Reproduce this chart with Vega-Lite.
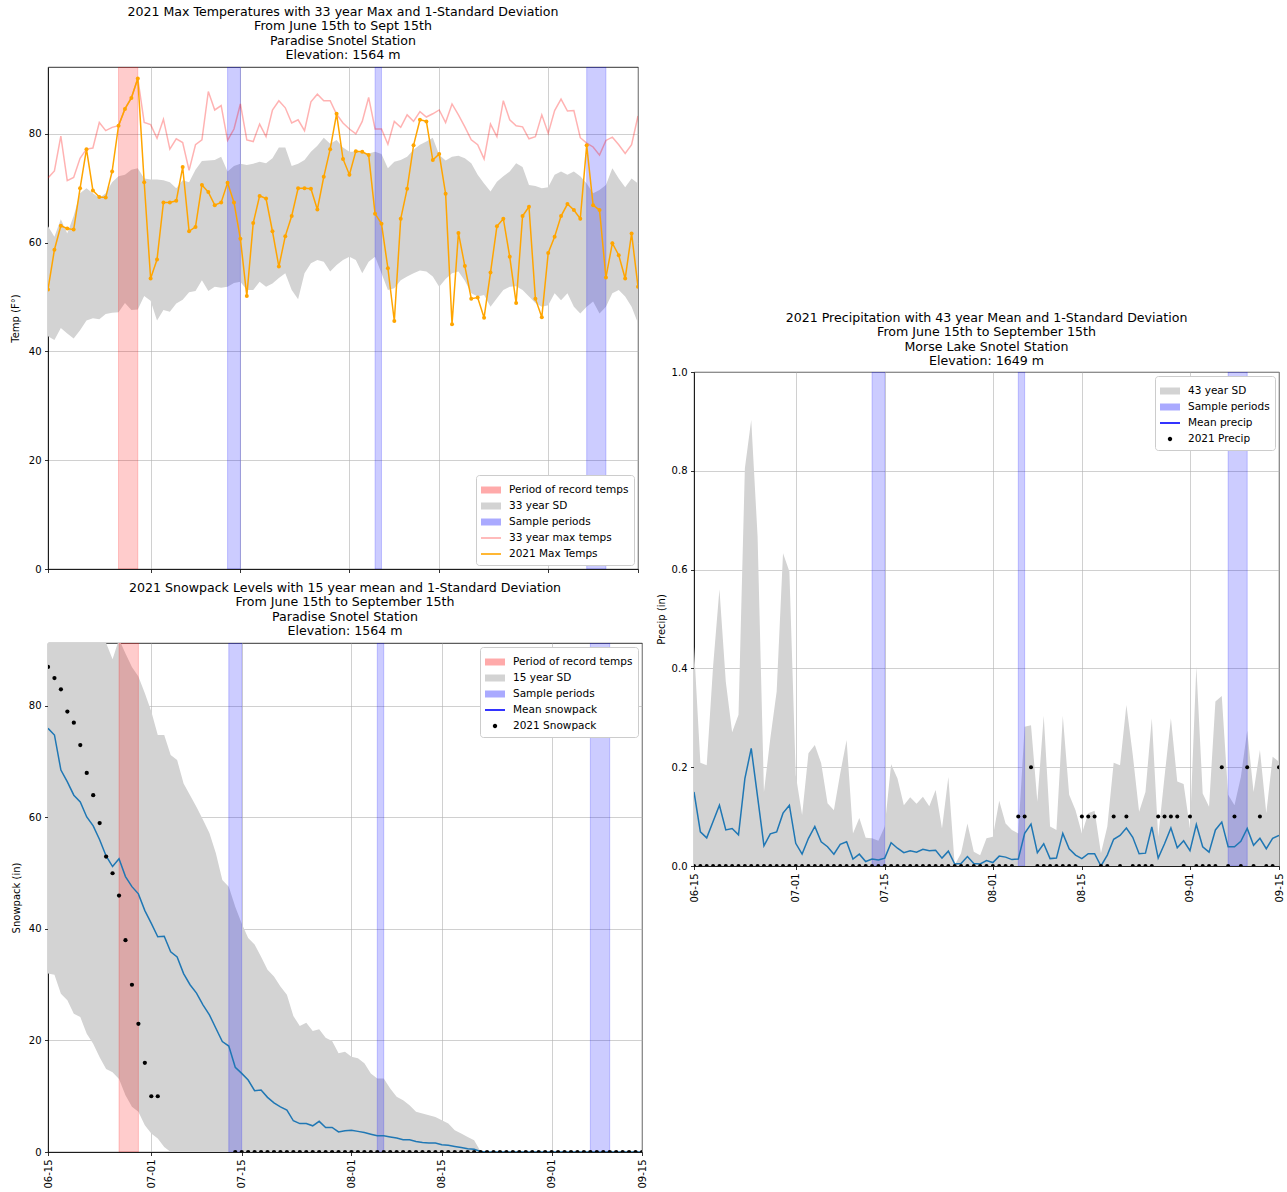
{
"$schema": "https://vega.github.io/schema/vega-lite/v6.json",
"padding": {"left": 9, "top": 5, "right": 5, "bottom": 5},
"background": "white",
"config": {
 "font": "DejaVu Sans",
 "view": {"stroke": "black", "strokeWidth": 0.8},
 "axis": {"labelFont": "DejaVu Sans", "labelFontSize": 10, "labelColor": "black", "titleFont": "DejaVu Sans", "titleFontSize": 10, "titleFontWeight": "normal", "titleColor": "black", "domainColor": "black", "domainWidth": 0.8, "tickColor": "black", "tickSize": 3.5, "tickWidth": 0.8, "gridColor": "#b0b0b0", "gridWidth": 0.8, "gridOpacity": 0.75, "zindex": 1, "labelPadding": 3.5, "titlePadding": 5, "labelFlush": false, "labelOverlap": false},
 "legend": {"labelFont": "DejaVu Sans", "labelFontSize": 10.5, "labelColor": "black", "fillColor": "white", "strokeColor": "#cccccc", "cornerRadius": 3, "padding": 5, "symbolSize": 400, "symbolStrokeWidth": 0, "rowPadding": 0, "labelOffset": 8, "offset": 4, "zindex": 2, "labelLimit": 300},
 "title": {"font": "DejaVu Sans", "fontSize": 12.6, "fontWeight": "normal", "color": "black", "lineHeight": 14.5, "anchor": "middle", "frame": "group", "offset": 5}
},
"datasets": {
 "record": [{"start": "2021-06-26T00:00", "end": "2021-06-29T00:00"}],
 "sample": [{"start": "2021-07-13T00:00", "end": "2021-07-15T00:00"}, {"start": "2021-08-05T00:00", "end": "2021-08-06T00:00"}, {"start": "2021-09-07T00:00", "end": "2021-09-10T00:00"}],
 "temp": [
{"date":"2021-06-15T00:00","t":51.4,"mx":71.9,"lo":42.8,"hi":63.0},
{"date":"2021-06-16T00:00","t":58.7,"mx":73.2,"lo":42.1,"hi":61.1},
{"date":"2021-06-17T00:00","t":63.1,"mx":79.6,"lo":44.3,"hi":64.3},
{"date":"2021-06-18T00:00","t":62.6,"mx":71.4,"lo":43.3,"hi":61.7},
{"date":"2021-06-19T00:00","t":62.4,"mx":72.0,"lo":42.4,"hi":64.9},
{"date":"2021-06-20T00:00","t":70.0,"mx":75.5,"lo":43.9,"hi":69.1},
{"date":"2021-06-21T00:00","t":77.2,"mx":77.2,"lo":45.7,"hi":70.0},
{"date":"2021-06-22T00:00","t":69.6,"mx":77.4,"lo":46.1,"hi":69.1},
{"date":"2021-06-23T00:00","t":68.4,"mx":82.1,"lo":45.9,"hi":68.2},
{"date":"2021-06-24T00:00","t":68.3,"mx":80.6,"lo":46.9,"hi":69.1},
{"date":"2021-06-25T00:00","t":73.1,"mx":81.2,"lo":47.1,"hi":71.1},
{"date":"2021-06-26T00:00","t":81.5,"mx":81.5,"lo":47.2,"hi":72.2},
{"date":"2021-06-27T00:00","t":84.6,"mx":84.6,"lo":48.9,"hi":72.5},
{"date":"2021-06-28T00:00","t":86.6,"mx":86.6,"lo":47.6,"hi":73.4},
{"date":"2021-06-29T00:00","t":90.2,"mx":90.2,"lo":47.7,"hi":73.7},
{"date":"2021-06-30T00:00","t":71.1,"mx":82.1,"lo":50.2,"hi":71.8},
{"date":"2021-07-01T00:00","t":53.4,"mx":81.7,"lo":49.3,"hi":71.6},
{"date":"2021-07-02T00:00","t":56.9,"mx":79.2,"lo":45.7,"hi":71.6},
{"date":"2021-07-03T00:00","t":67.4,"mx":82.7,"lo":47.6,"hi":71.5},
{"date":"2021-07-04T00:00","t":67.4,"mx":77.2,"lo":47.3,"hi":71.1},
{"date":"2021-07-05T00:00","t":67.7,"mx":79.1,"lo":48.8,"hi":70.0},
{"date":"2021-07-06T00:00","t":73.9,"mx":78.4,"lo":49.5,"hi":71.5},
{"date":"2021-07-07T00:00","t":62.1,"mx":73.3,"lo":50.9,"hi":71.1},
{"date":"2021-07-08T00:00","t":62.9,"mx":78.0,"lo":51.1,"hi":73.4},
{"date":"2021-07-09T00:00","t":70.6,"mx":78.9,"lo":53.1,"hi":75.0},
{"date":"2021-07-10T00:00","t":69.3,"mx":87.8,"lo":51.1,"hi":75.1},
{"date":"2021-07-11T00:00","t":66.9,"mx":84.4,"lo":51.9,"hi":75.2},
{"date":"2021-07-12T00:00","t":67.4,"mx":85.2,"lo":51.7,"hi":75.8},
{"date":"2021-07-13T00:00","t":71.0,"mx":78.8,"lo":51.9,"hi":73.1},
{"date":"2021-07-14T00:00","t":67.4,"mx":80.9,"lo":52.6,"hi":74.1},
{"date":"2021-07-15T00:00","t":60.7,"mx":85.5,"lo":52.8,"hi":74.5},
{"date":"2021-07-16T00:00","t":50.2,"mx":78.9,"lo":51.3,"hi":74.3},
{"date":"2021-07-17T00:00","t":63.6,"mx":78.6,"lo":51.3,"hi":74.5},
{"date":"2021-07-18T00:00","t":68.6,"mx":81.8,"lo":52.8,"hi":74.9},
{"date":"2021-07-19T00:00","t":68.1,"mx":79.5,"lo":51.9,"hi":74.6},
{"date":"2021-07-20T00:00","t":62.1,"mx":84.4,"lo":52.5,"hi":75.5},
{"date":"2021-07-21T00:00","t":55.6,"mx":86.1,"lo":53.5,"hi":77.5},
{"date":"2021-07-22T00:00","t":61.2,"mx":84.8,"lo":54.4,"hi":77.5},
{"date":"2021-07-23T00:00","t":64.9,"mx":82.0,"lo":51.3,"hi":74.1},
{"date":"2021-07-24T00:00","t":70.0,"mx":82.6,"lo":49.6,"hi":74.5},
{"date":"2021-07-25T00:00","t":70.0,"mx":80.6,"lo":54.4,"hi":75.2},
{"date":"2021-07-26T00:00","t":69.9,"mx":85.9,"lo":56.2,"hi":76.7},
{"date":"2021-07-27T00:00","t":66.1,"mx":87.3,"lo":56.8,"hi":77.8},
{"date":"2021-07-28T00:00","t":72.1,"mx":86.1,"lo":56.5,"hi":79.3},
{"date":"2021-07-29T00:00","t":77.2,"mx":86.1,"lo":54.7,"hi":78.2},
{"date":"2021-07-30T00:00","t":83.7,"mx":83.6,"lo":55.9,"hi":78.9},
{"date":"2021-07-31T00:00","t":75.4,"mx":82.0,"lo":56.8,"hi":77.5},
{"date":"2021-08-01T00:00","t":72.5,"mx":80.9,"lo":57.4,"hi":76.7},
{"date":"2021-08-02T00:00","t":76.8,"mx":80.0,"lo":56.8,"hi":76.7},
{"date":"2021-08-03T00:00","t":76.7,"mx":82.3,"lo":54.4,"hi":76.6},
{"date":"2021-08-04T00:00","t":76.1,"mx":86.7,"lo":56.5,"hi":76.4},
{"date":"2021-08-05T00:00","t":65.3,"mx":80.9,"lo":57.4,"hi":76.7},
{"date":"2021-08-06T00:00","t":63.5,"mx":80.9,"lo":54.4,"hi":76.3},
{"date":"2021-08-07T00:00","t":55.3,"mx":78.1,"lo":51.3,"hi":73.7},
{"date":"2021-08-08T00:00","t":45.6,"mx":82.3,"lo":51.6,"hi":74.9},
{"date":"2021-08-09T00:00","t":64.4,"mx":81.2,"lo":53.1,"hi":75.2},
{"date":"2021-08-10T00:00","t":69.9,"mx":83.5,"lo":53.8,"hi":75.8},
{"date":"2021-08-11T00:00","t":77.9,"mx":82.3,"lo":54.4,"hi":77.1},
{"date":"2021-08-12T00:00","t":82.6,"mx":84.1,"lo":54.9,"hi":78.0},
{"date":"2021-08-13T00:00","t":82.3,"mx":83.1,"lo":54.7,"hi":78.6},
{"date":"2021-08-14T00:00","t":75.2,"mx":83.7,"lo":53.8,"hi":79.3},
{"date":"2021-08-15T00:00","t":76.3,"mx":84.4,"lo":51.9,"hi":76.1},
{"date":"2021-08-16T00:00","t":69.0,"mx":82.1,"lo":53.3,"hi":75.1},
{"date":"2021-08-17T00:00","t":45.0,"mx":85.5,"lo":54.4,"hi":75.8},
{"date":"2021-08-18T00:00","t":61.8,"mx":83.5,"lo":54.7,"hi":76.0},
{"date":"2021-08-19T00:00","t":55.7,"mx":81.3,"lo":53.0,"hi":75.5},
{"date":"2021-08-20T00:00","t":49.7,"mx":78.9,"lo":50.7,"hi":74.6},
{"date":"2021-08-21T00:00","t":49.9,"mx":78.0,"lo":50.1,"hi":72.5},
{"date":"2021-08-22T00:00","t":46.2,"mx":75.4,"lo":50.4,"hi":70.9},
{"date":"2021-08-23T00:00","t":54.5,"mx":81.8,"lo":48.2,"hi":69.4},
{"date":"2021-08-24T00:00","t":63.0,"mx":79.5,"lo":49.8,"hi":71.2},
{"date":"2021-08-25T00:00","t":64.4,"mx":86.1,"lo":51.3,"hi":72.2},
{"date":"2021-08-26T00:00","t":57.4,"mx":82.6,"lo":51.9,"hi":73.1},
{"date":"2021-08-27T00:00","t":48.9,"mx":81.5,"lo":52.0,"hi":74.6},
{"date":"2021-08-28T00:00","t":64.9,"mx":81.3,"lo":51.3,"hi":73.9},
{"date":"2021-08-29T00:00","t":66.6,"mx":79.1,"lo":50.1,"hi":70.6},
{"date":"2021-08-30T00:00","t":49.7,"mx":79.5,"lo":48.9,"hi":70.4},
{"date":"2021-08-31T00:00","t":46.3,"mx":83.5,"lo":48.2,"hi":70.0},
{"date":"2021-09-01T00:00","t":58.1,"mx":80.1,"lo":48.5,"hi":70.2},
{"date":"2021-09-02T00:00","t":61.1,"mx":84.3,"lo":50.7,"hi":72.5},
{"date":"2021-09-03T00:00","t":64.9,"mx":86.4,"lo":49.4,"hi":73.1},
{"date":"2021-09-04T00:00","t":67.1,"mx":84.2,"lo":50.7,"hi":72.5},
{"date":"2021-09-05T00:00","t":66.0,"mx":84.3,"lo":48.2,"hi":73.1},
{"date":"2021-09-06T00:00","t":64.4,"mx":79.3,"lo":47.0,"hi":72.2},
{"date":"2021-09-07T00:00","t":77.9,"mx":78.3,"lo":48.2,"hi":70.9},
{"date":"2021-09-08T00:00","t":66.9,"mx":77.6,"lo":49.2,"hi":69.1},
{"date":"2021-09-09T00:00","t":66.0,"mx":76.1,"lo":47.0,"hi":69.7},
{"date":"2021-09-10T00:00","t":53.6,"mx":78.8,"lo":48.2,"hi":70.6},
{"date":"2021-09-11T00:00","t":59.9,"mx":79.4,"lo":50.7,"hi":73.7},
{"date":"2021-09-12T00:00","t":57.7,"mx":78.0,"lo":51.3,"hi":71.8},
{"date":"2021-09-13T00:00","t":53.4,"mx":76.4,"lo":50.1,"hi":70.2},
{"date":"2021-09-14T00:00","t":61.7,"mx":78.0,"lo":48.2,"hi":71.8},
{"date":"2021-09-15T00:00","t":51.9,"mx":83.3,"lo":45.2,"hi":70.9}
 ],
 "snow": [
{"date":"2021-06-15T00:00","s":87,"m":76.0,"lo":32.0,"hi":120.0},
{"date":"2021-06-16T00:00","s":85,"m":74.8,"lo":31.8,"hi":117.8},
{"date":"2021-06-17T00:00","s":83,"m":68.5,"lo":28.4,"hi":108.6},
{"date":"2021-06-18T00:00","s":79,"m":66.4,"lo":27.2,"hi":105.6},
{"date":"2021-06-19T00:00","s":77,"m":64.0,"lo":24.8,"hi":103.2},
{"date":"2021-06-20T00:00","s":73,"m":62.8,"lo":24.2,"hi":101.4},
{"date":"2021-06-21T00:00","s":68,"m":60.1,"lo":21.2,"hi":99.0},
{"date":"2021-06-22T00:00","s":64,"m":58.5,"lo":19.4,"hi":97.6},
{"date":"2021-06-23T00:00","s":59,"m":56.0,"lo":17.0,"hi":95.0},
{"date":"2021-06-24T00:00","s":53,"m":53.1,"lo":14.9,"hi":91.3},
{"date":"2021-06-25T00:00","s":50,"m":51.2,"lo":14.3,"hi":88.4},
{"date":"2021-06-26T00:00","s":46,"m":52.6,"lo":13.1,"hi":92.0},
{"date":"2021-06-27T00:00","s":38,"m":49.4,"lo":10.2,"hi":89.4},
{"date":"2021-06-28T00:00","s":30,"m":47.6,"lo":8.1,"hi":87.0},
{"date":"2021-06-29T00:00","s":23,"m":46.3,"lo":7.2,"hi":85.3},
{"date":"2021-06-30T00:00","s":16,"m":43.3,"lo":4.8,"hi":82.3},
{"date":"2021-07-01T00:00","s":10,"m":41.0,"lo":3.3,"hi":79.0},
{"date":"2021-07-02T00:00","s":10,"m":38.6,"lo":2.4,"hi":74.8},
{"date":"2021-07-03T00:00","s":null,"m":38.7,"lo":0.9,"hi":74.8},
{"date":"2021-07-04T00:00","s":null,"m":35.9,"lo":0,"hi":71.2},
{"date":"2021-07-05T00:00","s":null,"m":35.0,"lo":0,"hi":70.3},
{"date":"2021-07-06T00:00","s":null,"m":32.0,"lo":0,"hi":66.1},
{"date":"2021-07-07T00:00","s":null,"m":30.0,"lo":0,"hi":64.0},
{"date":"2021-07-08T00:00","s":null,"m":28.5,"lo":0,"hi":61.9},
{"date":"2021-07-09T00:00","s":null,"m":26.4,"lo":0,"hi":59.6},
{"date":"2021-07-10T00:00","s":null,"m":24.6,"lo":0,"hi":57.2},
{"date":"2021-07-11T00:00","s":null,"m":22.2,"lo":0,"hi":53.6},
{"date":"2021-07-12T00:00","s":null,"m":19.8,"lo":0,"hi":48.8},
{"date":"2021-07-13T00:00","s":null,"m":19.0,"lo":0,"hi":47.6},
{"date":"2021-07-14T00:00","s":0,"m":15.2,"lo":0,"hi":44.0},
{"date":"2021-07-15T00:00","s":0,"m":14.1,"lo":0,"hi":41.0},
{"date":"2021-07-16T00:00","s":0,"m":12.9,"lo":0,"hi":38.4},
{"date":"2021-07-17T00:00","s":0,"m":11.0,"lo":0,"hi":37.2},
{"date":"2021-07-18T00:00","s":0,"m":11.1,"lo":0,"hi":35.0},
{"date":"2021-07-19T00:00","s":0,"m":9.8,"lo":0,"hi":32.7},
{"date":"2021-07-20T00:00","s":0,"m":8.8,"lo":0,"hi":31.5},
{"date":"2021-07-21T00:00","s":0,"m":8.1,"lo":0,"hi":29.7},
{"date":"2021-07-22T00:00","s":0,"m":7.5,"lo":0,"hi":28.2},
{"date":"2021-07-23T00:00","s":0,"m":5.6,"lo":0,"hi":24.4},
{"date":"2021-07-24T00:00","s":0,"m":5.1,"lo":0,"hi":22.6},
{"date":"2021-07-25T00:00","s":0,"m":5.1,"lo":0,"hi":23.2},
{"date":"2021-07-26T00:00","s":0,"m":4.7,"lo":0,"hi":21.7},
{"date":"2021-07-27T00:00","s":0,"m":5.5,"lo":0,"hi":22.0},
{"date":"2021-07-28T00:00","s":0,"m":4.4,"lo":0,"hi":20.5},
{"date":"2021-07-29T00:00","s":0,"m":4.4,"lo":0,"hi":19.9},
{"date":"2021-07-30T00:00","s":0,"m":3.6,"lo":0,"hi":17.7},
{"date":"2021-07-31T00:00","s":0,"m":3.8,"lo":0,"hi":18.0},
{"date":"2021-08-01T00:00","s":0,"m":3.9,"lo":0,"hi":17.1},
{"date":"2021-08-02T00:00","s":0,"m":3.7,"lo":0,"hi":16.8},
{"date":"2021-08-03T00:00","s":0,"m":3.5,"lo":0,"hi":15.9},
{"date":"2021-08-04T00:00","s":0,"m":3.2,"lo":0,"hi":14.1},
{"date":"2021-08-05T00:00","s":0,"m":2.9,"lo":0,"hi":13.2},
{"date":"2021-08-06T00:00","s":0,"m":2.9,"lo":0,"hi":13.2},
{"date":"2021-08-07T00:00","s":0,"m":2.7,"lo":0,"hi":11.4},
{"date":"2021-08-08T00:00","s":0,"m":2.5,"lo":0,"hi":9.9},
{"date":"2021-08-09T00:00","s":0,"m":2.2,"lo":0,"hi":9.3},
{"date":"2021-08-10T00:00","s":0,"m":2.2,"lo":0,"hi":8.4},
{"date":"2021-08-11T00:00","s":0,"m":1.9,"lo":0,"hi":7.2},
{"date":"2021-08-12T00:00","s":0,"m":1.7,"lo":0,"hi":6.9},
{"date":"2021-08-13T00:00","s":0,"m":1.6,"lo":0,"hi":6.6},
{"date":"2021-08-14T00:00","s":0,"m":1.6,"lo":0,"hi":6.3},
{"date":"2021-08-15T00:00","s":0,"m":1.3,"lo":0,"hi":5.7},
{"date":"2021-08-16T00:00","s":0,"m":1.2,"lo":0,"hi":5.1},
{"date":"2021-08-17T00:00","s":0,"m":1.0,"lo":0,"hi":3.9},
{"date":"2021-08-18T00:00","s":0,"m":0.8,"lo":0,"hi":3.3},
{"date":"2021-08-19T00:00","s":0,"m":0.6,"lo":0,"hi":2.7},
{"date":"2021-08-20T00:00","s":0,"m":0.5,"lo":0,"hi":2.1},
{"date":"2021-08-21T00:00","s":0,"m":0.1,"lo":0,"hi":0.1},
{"date":"2021-08-22T00:00","s":0,"m":0,"lo":0,"hi":0},
{"date":"2021-08-23T00:00","s":0,"m":0,"lo":0,"hi":0},
{"date":"2021-08-24T00:00","s":0,"m":0,"lo":0,"hi":0},
{"date":"2021-08-25T00:00","s":0,"m":0,"lo":0,"hi":0},
{"date":"2021-08-26T00:00","s":0,"m":0,"lo":0,"hi":0},
{"date":"2021-08-27T00:00","s":0,"m":0,"lo":0,"hi":0},
{"date":"2021-08-28T00:00","s":0,"m":0,"lo":0,"hi":0},
{"date":"2021-08-29T00:00","s":0,"m":0,"lo":0,"hi":0},
{"date":"2021-08-30T00:00","s":0,"m":0,"lo":0,"hi":0},
{"date":"2021-08-31T00:00","s":0,"m":0,"lo":0,"hi":0},
{"date":"2021-09-01T00:00","s":0,"m":0,"lo":0,"hi":0},
{"date":"2021-09-02T00:00","s":0,"m":0,"lo":0,"hi":0},
{"date":"2021-09-03T00:00","s":0,"m":0,"lo":0,"hi":0},
{"date":"2021-09-04T00:00","s":0,"m":0,"lo":0,"hi":0},
{"date":"2021-09-05T00:00","s":0,"m":0,"lo":0,"hi":0},
{"date":"2021-09-06T00:00","s":0,"m":0,"lo":0,"hi":0},
{"date":"2021-09-07T00:00","s":0,"m":0,"lo":0,"hi":0},
{"date":"2021-09-08T00:00","s":0,"m":0,"lo":0,"hi":0},
{"date":"2021-09-09T00:00","s":0,"m":0,"lo":0,"hi":0},
{"date":"2021-09-10T00:00","s":0,"m":0,"lo":0,"hi":0},
{"date":"2021-09-11T00:00","s":0,"m":0,"lo":0,"hi":0},
{"date":"2021-09-12T00:00","s":0,"m":0,"lo":0,"hi":0},
{"date":"2021-09-13T00:00","s":0,"m":0,"lo":0,"hi":0},
{"date":"2021-09-14T00:00","s":0,"m":0,"lo":0,"hi":0},
{"date":"2021-09-15T00:00","s":0,"m":0,"lo":0,"hi":0}
 ],
 "precip": [
{"date":"2021-06-15T00:00","m":0.150,"hi":0.444,"p":0},
{"date":"2021-06-16T00:00","m":0.069,"hi":0.209,"p":0},
{"date":"2021-06-17T00:00","m":0.057,"hi":0.204,"p":0},
{"date":"2021-06-18T00:00","m":0.090,"hi":0.404,"p":0},
{"date":"2021-06-19T00:00","m":0.123,"hi":0.560,"p":0},
{"date":"2021-06-20T00:00","m":0.073,"hi":0.373,"p":0},
{"date":"2021-06-21T00:00","m":0.076,"hi":0.271,"p":0},
{"date":"2021-06-22T00:00","m":0.063,"hi":0.306,"p":0},
{"date":"2021-06-23T00:00","m":0.177,"hi":0.805,"p":0},
{"date":"2021-06-24T00:00","m":0.238,"hi":0.903,"p":0},
{"date":"2021-06-25T00:00","m":0.140,"hi":0.667,"p":0},
{"date":"2021-06-26T00:00","m":0.041,"hi":0.150,"p":0},
{"date":"2021-06-27T00:00","m":0.065,"hi":0.258,"p":0},
{"date":"2021-06-28T00:00","m":0.069,"hi":0.353,"p":0},
{"date":"2021-06-29T00:00","m":0.107,"hi":0.633,"p":0},
{"date":"2021-06-30T00:00","m":0.123,"hi":0.596,"p":0},
{"date":"2021-07-01T00:00","m":0.046,"hi":0.184,"p":0},
{"date":"2021-07-02T00:00","m":0.024,"hi":0.103,"p":0},
{"date":"2021-07-03T00:00","m":0.056,"hi":0.228,"p":0},
{"date":"2021-07-04T00:00","m":0.080,"hi":0.245,"p":0},
{"date":"2021-07-05T00:00","m":0.049,"hi":0.208,"p":0},
{"date":"2021-07-06T00:00","m":0.039,"hi":0.127,"p":0},
{"date":"2021-07-07T00:00","m":0.024,"hi":0.113,"p":0},
{"date":"2021-07-08T00:00","m":0.044,"hi":0.188,"p":0},
{"date":"2021-07-09T00:00","m":0.049,"hi":0.255,"p":0},
{"date":"2021-07-10T00:00","m":0.014,"hi":0.066,"p":0},
{"date":"2021-07-11T00:00","m":0.024,"hi":0.097,"p":0},
{"date":"2021-07-12T00:00","m":0.009,"hi":0.057,"p":0},
{"date":"2021-07-13T00:00","m":0.014,"hi":0.056,"p":0},
{"date":"2021-07-14T00:00","m":0.012,"hi":0.051,"p":0},
{"date":"2021-07-15T00:00","m":0.016,"hi":0.080,"p":0},
{"date":"2021-07-16T00:00","m":0.047,"hi":0.206,"p":0},
{"date":"2021-07-17T00:00","m":0.036,"hi":0.177,"p":0},
{"date":"2021-07-18T00:00","m":0.027,"hi":0.123,"p":0},
{"date":"2021-07-19T00:00","m":0.031,"hi":0.139,"p":0},
{"date":"2021-07-20T00:00","m":0.028,"hi":0.126,"p":0},
{"date":"2021-07-21T00:00","m":0.034,"hi":0.140,"p":0},
{"date":"2021-07-22T00:00","m":0.031,"hi":0.121,"p":0},
{"date":"2021-07-23T00:00","m":0.032,"hi":0.154,"p":0},
{"date":"2021-07-24T00:00","m":0.016,"hi":0.076,"p":0},
{"date":"2021-07-25T00:00","m":0.030,"hi":0.180,"p":0},
{"date":"2021-07-26T00:00","m":0.004,"hi":0.002,"p":0},
{"date":"2021-07-27T00:00","m":0.005,"hi":0.026,"p":0},
{"date":"2021-07-28T00:00","m":0.019,"hi":0.086,"p":0},
{"date":"2021-07-29T00:00","m":0.005,"hi":0.029,"p":0},
{"date":"2021-07-30T00:00","m":0.004,"hi":0.022,"p":0},
{"date":"2021-07-31T00:00","m":0.011,"hi":0.056,"p":0},
{"date":"2021-08-01T00:00","m":0.007,"hi":0.059,"p":0},
{"date":"2021-08-02T00:00","m":0.020,"hi":0.132,"p":0},
{"date":"2021-08-03T00:00","m":0.018,"hi":0.086,"p":0},
{"date":"2021-08-04T00:00","m":0.013,"hi":0.073,"p":0},
{"date":"2021-08-05T00:00","m":0.014,"hi":0.066,"p":0.1},
{"date":"2021-08-06T00:00","m":0.066,"hi":0.282,"p":0.1},
{"date":"2021-08-07T00:00","m":0.085,"hi":0.285,"p":0.2},
{"date":"2021-08-08T00:00","m":0.027,"hi":0.130,"p":0},
{"date":"2021-08-09T00:00","m":0.045,"hi":0.304,"p":0},
{"date":"2021-08-10T00:00","m":0.015,"hi":0.080,"p":0},
{"date":"2021-08-11T00:00","m":0.016,"hi":0.073,"p":0},
{"date":"2021-08-12T00:00","m":0.066,"hi":0.304,"p":0},
{"date":"2021-08-13T00:00","m":0.035,"hi":0.144,"p":0},
{"date":"2021-08-14T00:00","m":0.022,"hi":0.113,"p":0},
{"date":"2021-08-15T00:00","m":0.015,"hi":0.066,"p":0.1},
{"date":"2021-08-16T00:00","m":0.025,"hi":0.107,"p":0.1},
{"date":"2021-08-17T00:00","m":0.025,"hi":0.112,"p":0.1},
{"date":"2021-08-18T00:00","m":0.000,"hi":0.026,"p":0},
{"date":"2021-08-19T00:00","m":0.022,"hi":0.080,"p":0},
{"date":"2021-08-20T00:00","m":0.054,"hi":0.209,"p":0.1},
{"date":"2021-08-21T00:00","m":0.062,"hi":0.204,"p":0},
{"date":"2021-08-22T00:00","m":0.077,"hi":0.326,"p":0.1},
{"date":"2021-08-23T00:00","m":0.058,"hi":0.225,"p":0},
{"date":"2021-08-24T00:00","m":0.025,"hi":0.110,"p":0},
{"date":"2021-08-25T00:00","m":0.026,"hi":0.150,"p":0},
{"date":"2021-08-26T00:00","m":0.079,"hi":0.299,"p":0},
{"date":"2021-08-27T00:00","m":0.016,"hi":0.059,"p":0.1},
{"date":"2021-08-28T00:00","m":0.045,"hi":0.181,"p":0.1},
{"date":"2021-08-29T00:00","m":0.077,"hi":0.299,"p":0.1},
{"date":"2021-08-30T00:00","m":0.037,"hi":0.171,"p":0.1},
{"date":"2021-08-31T00:00","m":0.051,"hi":0.166,"p":0},
{"date":"2021-09-01T00:00","m":0.031,"hi":0.076,"p":0.1},
{"date":"2021-09-02T00:00","m":0.084,"hi":0.404,"p":0},
{"date":"2021-09-03T00:00","m":0.039,"hi":0.147,"p":0},
{"date":"2021-09-04T00:00","m":0.028,"hi":0.120,"p":0},
{"date":"2021-09-05T00:00","m":0.073,"hi":0.333,"p":0},
{"date":"2021-09-06T00:00","m":0.089,"hi":0.344,"p":0.2},
{"date":"2021-09-07T00:00","m":0.039,"hi":0.144,"p":0},
{"date":"2021-09-08T00:00","m":0.039,"hi":0.123,"p":0.1},
{"date":"2021-09-09T00:00","m":0.050,"hi":0.180,"p":0},
{"date":"2021-09-10T00:00","m":0.076,"hi":0.274,"p":0.2},
{"date":"2021-09-11T00:00","m":0.042,"hi":0.150,"p":0},
{"date":"2021-09-12T00:00","m":0.056,"hi":0.235,"p":0.1},
{"date":"2021-09-13T00:00","m":0.035,"hi":0.107,"p":0},
{"date":"2021-09-14T00:00","m":0.056,"hi":0.221,"p":0},
{"date":"2021-09-15T00:00","m":0.062,"hi":0.211,"p":0.2}
 ]
},
"resolve": {"scale": {"color": "independent", "shape": "independent", "x": "independent", "y": "independent"}, "legend": {"color": "independent", "shape": "independent"}},
"spacing": 7,
"hconcat": [
 {
  "spacing": 6,
  "resolve": {"scale": {"color": "independent", "shape": "independent", "x": "independent", "y": "independent"}, "legend": {"color": "independent", "shape": "independent"}},
  "vconcat": [
   {
    "width": 590, "height": 502,
    "title": {"text": ["2021 Max Temperatures with 33 year Max and 1-Standard Deviation", "From June 15th to Sept 15th", "Paradise Snotel Station", "Elevation: 1564 m"]},
    "layer": [
     {"data": {"name": "temp"}, "mark": {"type": "area", "color": "#d3d3d3", "opacity": 1, "clip": true},
      "encoding": {
       "x": {"field": "date", "type": "temporal", "title": null, "scale": {"domain": [{"year": 2021, "month": 6, "date": 15}, {"year": 2021, "month": 9, "date": 15}], "nice": false},
             "axis": {"labels": false, "values": [{"year": 2021, "month": 6, "date": 15}, {"year": 2021, "month": 7, "date": 1}, {"year": 2021, "month": 7, "date": 15}, {"year": 2021, "month": 8, "date": 1}, {"year": 2021, "month": 8, "date": 15}, {"year": 2021, "month": 9, "date": 1}, {"year": 2021, "month": 9, "date": 15}]}},
       "y": {"field": "lo", "type": "quantitative", "title": "Temp (F°)", "scale": {"domain": [0, 92.3], "nice": false}, "axis": {"values": [0, 20, 40, 60, 80], "titlePadding": 8}},
       "y2": {"field": "hi"}
      }},
     {"data": {"name": "record"}, "mark": {"type": "rect", "fill": "red", "fillOpacity": 0.2, "stroke": "red", "strokeOpacity": 0.2, "strokeWidth": 1, "clip": true},
      "encoding": {"x": {"field": "start", "type": "temporal", "title": null, "scale": {"domain": [{"year": 2021, "month": 6, "date": 15}, {"year": 2021, "month": 9, "date": 15}], "nice": false}}, "x2": {"field": "end"}}},
     {"data": {"name": "sample"}, "mark": {"type": "rect", "fill": "blue", "fillOpacity": 0.2, "stroke": "blue", "strokeOpacity": 0.2, "strokeWidth": 1, "clip": true},
      "encoding": {"x": {"field": "start", "type": "temporal", "title": null, "scale": {"domain": [{"year": 2021, "month": 6, "date": 15}, {"year": 2021, "month": 9, "date": 15}], "nice": false}}, "x2": {"field": "end"}}},
     {"data": {"name": "temp"}, "mark": {"type": "line", "color": "red", "strokeWidth": 1.5, "opacity": 0.3, "clip": true},
      "encoding": {"x": {"field": "date", "type": "temporal", "title": null, "scale": {"domain": [{"year": 2021, "month": 6, "date": 15}, {"year": 2021, "month": 9, "date": 15}], "nice": false}},
                   "y": {"field": "mx", "type": "quantitative", "title": "Temp (F°)", "scale": {"domain": [0, 92.3], "nice": false}}}},
     {"data": {"name": "temp"}, "mark": {"type": "line", "color": "orange", "strokeWidth": 1.5, "clip": true, "point": {"filled": true, "size": 16, "color": "orange", "opacity": 1}},
      "encoding": {"x": {"field": "date", "type": "temporal", "title": null, "scale": {"domain": [{"year": 2021, "month": 6, "date": 15}, {"year": 2021, "month": 9, "date": 15}], "nice": false}},
                   "y": {"field": "t", "type": "quantitative", "title": "Temp (F°)", "scale": {"domain": [0, 92.3], "nice": false}}}},
     {"data": {"values": []}, "mark": {"type": "point", "filled": true, "opacity": 1},
      "encoding": {
       "color": {"field": "series", "type": "nominal", "scale": {"domain": ["Period of record temps", "33 year SD", "Sample periods", "33 year max temps", "2021 Max Temps"], "range": ["#ffaaaa", "#d3d3d3", "#aaaaff", "#ffaaaa", "#ffa500"]}, "legend": {"orient": "bottom-right", "title": null}},
       "shape": {"field": "series", "type": "nominal", "scale": {"domain": ["Period of record temps", "33 year SD", "Sample periods", "33 year max temps", "2021 Max Temps"], "range": ["M-1,-0.35L1,-0.35L1,0.35L-1,0.35Z", "M-1,-0.35L1,-0.35L1,0.35L-1,0.35Z", "M-1,-0.35L1,-0.35L1,0.35L-1,0.35Z", "M-1,-0.08L1,-0.08L1,0.08L-1,0.08Z", "M-1,-0.08L1,-0.08L1,0.08L-1,0.08Z"]}, "legend": {"orient": "bottom-right", "title": null}}
      }}
    ]
   },
   {
    "width": 594, "height": 509,
    "title": {"text": ["2021 Snowpack Levels with 15 year mean and 1-Standard Deviation", "From June 15th to September 15th", "Paradise Snotel Station", "Elevation: 1564 m"]},
    "layer": [
     {"data": {"name": "snow"}, "mark": {"type": "area", "color": "#d3d3d3", "opacity": 1, "clip": true},
      "encoding": {
       "x": {"field": "date", "type": "temporal", "title": null, "scale": {"domain": [{"year": 2021, "month": 6, "date": 15}, {"year": 2021, "month": 9, "date": 15}], "nice": false},
             "axis": {"format": "%m-%d", "labelAngle": -90, "values": [{"year": 2021, "month": 6, "date": 15}, {"year": 2021, "month": 7, "date": 1}, {"year": 2021, "month": 7, "date": 15}, {"year": 2021, "month": 8, "date": 1}, {"year": 2021, "month": 8, "date": 15}, {"year": 2021, "month": 9, "date": 1}, {"year": 2021, "month": 9, "date": 15}]}},
       "y": {"field": "lo", "type": "quantitative", "title": "Snowpack (in)", "scale": {"domain": [0, 91.3], "nice": false}, "axis": {"values": [0, 20, 40, 60, 80], "titlePadding": 7}},
       "y2": {"field": "hi"}
      }},
     {"data": {"name": "record"}, "mark": {"type": "rect", "fill": "red", "fillOpacity": 0.2, "stroke": "red", "strokeOpacity": 0.2, "strokeWidth": 1, "clip": true},
      "encoding": {"x": {"field": "start", "type": "temporal", "title": null, "scale": {"domain": [{"year": 2021, "month": 6, "date": 15}, {"year": 2021, "month": 9, "date": 15}], "nice": false}}, "x2": {"field": "end"}}},
     {"data": {"name": "sample"}, "mark": {"type": "rect", "fill": "blue", "fillOpacity": 0.2, "stroke": "blue", "strokeOpacity": 0.2, "strokeWidth": 1, "clip": true},
      "encoding": {"x": {"field": "start", "type": "temporal", "title": null, "scale": {"domain": [{"year": 2021, "month": 6, "date": 15}, {"year": 2021, "month": 9, "date": 15}], "nice": false}}, "x2": {"field": "end"}}},
     {"data": {"name": "snow"}, "mark": {"type": "line", "color": "#1f77b4", "strokeWidth": 1.5, "clip": true},
      "encoding": {"x": {"field": "date", "type": "temporal", "title": null, "scale": {"domain": [{"year": 2021, "month": 6, "date": 15}, {"year": 2021, "month": 9, "date": 15}], "nice": false}},
                   "y": {"field": "m", "type": "quantitative", "title": "Snowpack (in)", "scale": {"domain": [0, 91.3], "nice": false}}}},
     {"data": {"name": "snow"}, "mark": {"type": "point", "filled": true, "color": "black", "size": 18, "opacity": 1, "clip": true},
      "encoding": {"x": {"field": "date", "type": "temporal", "title": null, "scale": {"domain": [{"year": 2021, "month": 6, "date": 15}, {"year": 2021, "month": 9, "date": 15}], "nice": false}},
                   "y": {"field": "s", "type": "quantitative", "title": "Snowpack (in)", "scale": {"domain": [0, 91.3], "nice": false}}}},
     {"data": {"values": []}, "mark": {"type": "point", "filled": true, "opacity": 1},
      "encoding": {
       "color": {"field": "series", "type": "nominal", "scale": {"domain": ["Period of record temps", "15 year SD", "Sample periods", "Mean snowpack", "2021 Snowpack"], "range": ["#ffaaaa", "#d3d3d3", "#aaaaff", "#0000ff", "#000000"]}, "legend": {"orient": "top-right", "title": null}},
       "shape": {"field": "series", "type": "nominal", "scale": {"domain": ["Period of record temps", "15 year SD", "Sample periods", "Mean snowpack", "2021 Snowpack"], "range": ["M-1,-0.35L1,-0.35L1,0.35L-1,0.35Z", "M-1,-0.35L1,-0.35L1,0.35L-1,0.35Z", "M-1,-0.35L1,-0.35L1,0.35L-1,0.35Z", "M-1,-0.08L1,-0.08L1,0.08L-1,0.08Z", "M0.22,0A0.22,0.22,0,1,1,-0.22,0A0.22,0.22,0,1,1,0.22,0Z"]}, "legend": {"orient": "top-right", "title": null}}
      }}
    ]
   }
  ]
 },
 {
  "spacing": 0,
  "resolve": {"scale": {"color": "independent", "shape": "independent", "x": "independent", "y": "independent"}, "legend": {"color": "independent", "shape": "independent"}},
  "vconcat": [
   {"width": 585, "height": 244, "data": {"values": []}, "mark": "point", "encoding": {}, "view": {"stroke": null}},
   {
    "width": 585, "height": 494,
    "title": {"text": ["2021 Precipitation with 43 year Mean and 1-Standard Deviation", "From June 15th to September 15th", "Morse Lake Snotel Station", "Elevation: 1649 m"], "offset": -1},
    "layer": [
     {"data": {"name": "precip"}, "mark": {"type": "area", "color": "#d3d3d3", "opacity": 1, "clip": true},
      "encoding": {
       "x": {"field": "date", "type": "temporal", "title": null, "scale": {"domain": [{"year": 2021, "month": 6, "date": 15}, {"year": 2021, "month": 9, "date": 15}], "nice": false},
             "axis": {"format": "%m-%d", "labelAngle": -90, "values": [{"year": 2021, "month": 6, "date": 15}, {"year": 2021, "month": 7, "date": 1}, {"year": 2021, "month": 7, "date": 15}, {"year": 2021, "month": 8, "date": 1}, {"year": 2021, "month": 8, "date": 15}, {"year": 2021, "month": 9, "date": 1}, {"year": 2021, "month": 9, "date": 15}]}},
       "y": {"field": "hi", "type": "quantitative", "title": "Precip (in)", "scale": {"domain": [0, 1.0], "nice": false}, "axis": {"values": [0, 0.2, 0.4, 0.6, 0.8, 1.0], "format": ".1f"}}
      }},
     {"data": {"name": "sample"}, "mark": {"type": "rect", "fill": "blue", "fillOpacity": 0.2, "stroke": "blue", "strokeOpacity": 0.2, "strokeWidth": 1, "clip": true},
      "encoding": {"x": {"field": "start", "type": "temporal", "title": null, "scale": {"domain": [{"year": 2021, "month": 6, "date": 15}, {"year": 2021, "month": 9, "date": 15}], "nice": false}}, "x2": {"field": "end"}}},
     {"data": {"name": "precip"}, "mark": {"type": "line", "color": "#1f77b4", "strokeWidth": 1.5, "clip": true},
      "encoding": {"x": {"field": "date", "type": "temporal", "title": null, "scale": {"domain": [{"year": 2021, "month": 6, "date": 15}, {"year": 2021, "month": 9, "date": 15}], "nice": false}},
                   "y": {"field": "m", "type": "quantitative", "title": "Precip (in)", "scale": {"domain": [0, 1.0], "nice": false}}}},
     {"data": {"name": "precip"}, "mark": {"type": "point", "filled": true, "color": "black", "size": 16, "opacity": 1, "clip": true},
      "encoding": {"x": {"field": "date", "type": "temporal", "title": null, "scale": {"domain": [{"year": 2021, "month": 6, "date": 15}, {"year": 2021, "month": 9, "date": 15}], "nice": false}},
                   "y": {"field": "p", "type": "quantitative", "title": "Precip (in)", "scale": {"domain": [0, 1.0], "nice": false}}}},
     {"data": {"values": []}, "mark": {"type": "point", "filled": true, "opacity": 1},
      "encoding": {
       "color": {"field": "series", "type": "nominal", "scale": {"domain": ["43 year SD", "Sample periods", "Mean precip", "2021 Precip"], "range": ["#d3d3d3", "#aaaaff", "#0000ff", "#000000"]}, "legend": {"orient": "top-right", "title": null}},
       "shape": {"field": "series", "type": "nominal", "scale": {"domain": ["43 year SD", "Sample periods", "Mean precip", "2021 Precip"], "range": ["M-1,-0.35L1,-0.35L1,0.35L-1,0.35Z", "M-1,-0.35L1,-0.35L1,0.35L-1,0.35Z", "M-1,-0.08L1,-0.08L1,0.08L-1,0.08Z", "M0.22,0A0.22,0.22,0,1,1,-0.22,0A0.22,0.22,0,1,1,0.22,0Z"]}, "legend": {"orient": "top-right", "title": null}}
      }}
    ]
   }
  ]
 }
]
}
